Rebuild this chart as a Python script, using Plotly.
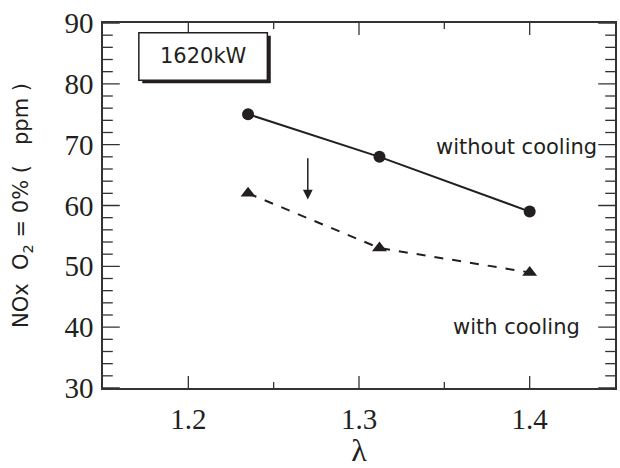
import plotly.graph_objects as go

lam = [1.235, 1.312, 1.400]
nox_without = [75, 68, 59]
nox_with = [62, 53, 49]
x_ticks = [1.2, 1.3, 1.4]
x_minor = [1.25, 1.35]
y_ticks = [30, 40, 50, 60, 70, 80, 90]
y_minor = [v for v in range(32, 90, 2) if v % 10]

x_range = [1.15, 1.45]
y_range = [30, 90]

W, H = 620, 468
ML, MR, MT, MB = 103, 5, 23, 80
plot_h = H - MT - MB

ink = "#231f20"
axc = "#333333"
sans = "DejaVu Sans"
serif = "Liberation Serif"

fig = go.Figure()

# inward tick marks on the left/right frame: line markers clipped to the plot area
def ytick_trace(xs, ys, size):
    return go.Scatter(x=xs, y=ys, mode="markers", hoverinfo="skip", showlegend=False,
                      cliponaxis=True,
                      marker=dict(symbol="line-ew", size=size, color=axc,
                                  line=dict(color=axc, width=1.3)))

for edge in x_range:
    fig.add_trace(ytick_trace([edge] * len(y_ticks), y_ticks, 24))
    fig.add_trace(ytick_trace([edge] * len(y_minor), y_minor, 14))

# inward tick marks on the bottom/top frame: short segments (length from pixel size)
def xtick_trace(vals, px_len):
    d = px_len * (y_range[1] - y_range[0]) / plot_h
    xs, ys = [], []
    for v in vals:
        xs += [v, v, None, v, v, None]
        ys += [y_range[0], y_range[0] + d, None, y_range[1], y_range[1] - d, None]
    return go.Scatter(x=xs, y=ys, mode="lines", hoverinfo="skip", showlegend=False,
                      line=dict(color=axc, width=1.3))

fig.add_trace(xtick_trace(x_ticks, 12))
fig.add_trace(xtick_trace(x_minor, 6))

fig.add_trace(go.Scatter(x=lam, y=nox_without, mode="lines+markers",
                         line=dict(color=ink, width=2),
                         marker=dict(symbol="circle", size=12, color=ink),
                         showlegend=False))
fig.add_trace(go.Scatter(x=lam, y=nox_with, mode="lines+markers",
                         line=dict(color=ink, width=2, dash="dash"),
                         marker=dict(symbol="triangle-up", size=13, color=ink),
                         showlegend=False))

fig.add_annotation(x=1.392, y=69.6, text="without cooling", showarrow=False,
                   font=dict(family=sans, size=21, color=ink))
fig.add_annotation(x=1.392, y=40.0, text="with cooling", showarrow=False,
                   font=dict(family=sans, size=21, color=ink))
fig.add_annotation(x=1.27, y=61, ax=1.27, ay=68, axref="x", ayref="y",
                   xref="x", yref="y", text="", showarrow=True,
                   arrowhead=2, arrowsize=1.3, arrowwidth=1.5, arrowcolor=ink)

fig.add_shape(type="rect", xref="x", yref="y", x0=1.173, x1=1.2483,
              y0=80.1, y1=87.9, fillcolor=ink, line=dict(width=0), layer="above")
fig.add_shape(type="rect", xref="x", yref="y", x0=1.171, x1=1.2463,
              y0=80.6, y1=88.4, fillcolor="white", line=dict(color=ink, width=1.5), layer="above")
fig.add_annotation(x=(1.171 + 1.2463) / 2, y=84.5, text="1620kW", showarrow=False,
                   font=dict(family=sans, size=21, color=ink))

base = dict(showline=True, linecolor=axc, linewidth=1.5, mirror=True,
            ticks="", showgrid=False, zeroline=False, automargin=False,
            tickfont=dict(family=serif, size=29, color=ink))
fig.update_layout(
    template="none", width=W, height=H,
    margin=dict(l=ML, r=MR, t=MT, b=MB),
    plot_bgcolor="white", paper_bgcolor="white",
    xaxis=dict(range=x_range, tickmode="array", tickvals=x_ticks,
               ticktext=[f"{v:.1f}" for v in x_ticks], ticklabelstandoff=4,
               title=dict(text="λ", font=dict(family=serif, size=32, color=ink), standoff=6),
               **base),
    yaxis=dict(range=y_range, tickmode="array", tickvals=y_ticks, ticklabelstandoff=2,
               title=dict(text="NOx  O<sub>2</sub> = 0% (   ppm )", font=dict(family=sans, size=21, color=ink), standoff=30),
               **base),
)

fig.write_html("out.html")
